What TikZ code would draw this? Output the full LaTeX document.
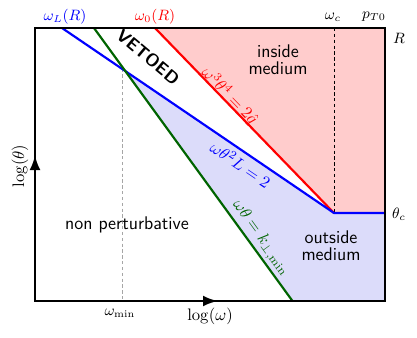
\documentclass[tikz,border=0pt]{standalone}
\usetikzlibrary{arrows.meta}
\definecolor{pinkfill}{RGB}{255,204,204}
\definecolor{bluefill}{RGB}{220,220,250}
\definecolor{dgreen}{RGB}{0,100,0}
\begin{document}
\begin{tikzpicture}[x=0.6pt,y=-0.6pt,
  curve/.style={line width=1.3pt},
  frameline/.style={line width=1.5pt},
  lbl/.style={inner sep=0pt, font=\fontsize{11}{12}\sffamily},
  tick/.style={inner sep=0pt, font=\small}]
\useasboundingbox (0,0) rectangle (417,337);
% key points
\coordinate (BL) at (35,301);
\coordinate (TR) at (385,28);
\coordinate (TL) at (35,28);
\coordinate (BR) at (385,301);
\coordinate (blueTop) at (62,28);
\coordinate (greenTop) at (94,28);
\coordinate (redTop) at (155,28);
\coordinate (kink) at (334,213);
\coordinate (cross) at (122.5,68.6);
\coordinate (greenBot) at (292.5,301);
\coordinate (rightC) at (385,213);
\coordinate (wcTop) at (334,28);
\coordinate (wminBot) at (122.5,301);
\coordinate (yArrow) at (35,155);
\coordinate (xArrow) at (218,301);
% fills
\fill[pinkfill] (redTop) -- (TR) -- (rightC) -- (kink) -- cycle;
\fill[bluefill] (cross) -- (kink) -- (rightC) -- (BR) -- (greenBot) -- cycle;
% dashed guides
\draw[dash pattern=on 2pt off 1.5pt, line width=0.5pt] (wcTop) -- (kink);
\draw[dash pattern=on 2pt off 1.5pt, gray!70, line width=0.5pt] (cross) -- (wminBot);
% curves
\draw[curve, red] (redTop) -- (kink);
\draw[curve, blue] (blueTop) -- (kink) -- (rightC);
\draw[curve, dgreen] (greenTop) -- (greenBot);
% frame
\draw[frameline] (TL) rectangle (BR);
\draw[frameline, -{Latex[length=9pt,width=6.5pt]}] (BL) -- (yArrow);
\draw[frameline, -{Latex[length=9pt,width=6.5pt]}] (BL) -- (xArrow);
% labels
\node[tick, blue] (lwL) at (65,17) {$\omega_L(R)$};
\node[tick, red] (lw0) at (155,17) {$\omega_0(R)$};
\node[tick] (lwc) at (333,17) {$\omega_c$};
\node[tick] (lpt) at (374,17) {$p_{T0}$};
\node[tick] (lR) at (399,38) {$R$};
\node[tick] (ltc) at (399,214) {$\theta_c$};
\node[tick] (lwmin) at (120,313) {$\omega_{\min}$};
\node[inner sep=0pt] (lx) at (210,316) {$\log(\omega)$};
\node[inner sep=0pt, rotate=90] (ly) at (20,166) {$\log(\theta)$};
\node[lbl, font=\fontsize{10.5}{12}\sffamily\bfseries, rotate=-40] (veto) at (148,57) {VETOED};
\node[lbl, align=center] (inside) at (278,60) {inside\\[-2pt]medium};
\node[lbl, align=center] (outside) at (331,246) {outside\\[-2pt]medium};
\node[lbl] (np) at (127,225) {non perturbative};
\node[inner sep=0pt, red, rotate=-46] (lred) at (230,96) {$\omega^3\theta^4=2\hat q$};
\node[inner sep=0pt, blue, rotate=-34] (lblue) at (241,164) {$\omega\theta^2L=2$};
\node[inner sep=0pt, dgreen, rotate=-54] (lgreen) at (261,238) {$\omega\theta=k_{\perp,\min}$};
\end{tikzpicture}
\end{document}
